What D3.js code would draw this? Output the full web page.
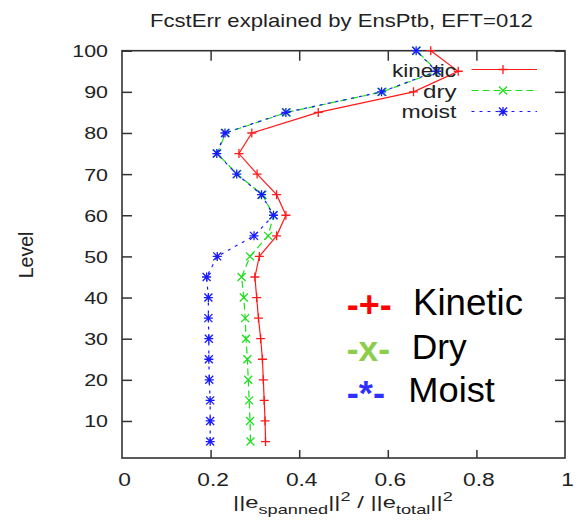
<!DOCTYPE html>
<html><head><meta charset="utf-8">
<script src="https://cdn.jsdelivr.net/npm/d3@7"></script>
<style>body{margin:0;background:#fff}svg{display:block;font-family:"Liberation Sans",Arial,Helvetica,sans-serif}</style>
</head><body>
<script>
const levels = [5,10,15,20,25,30,35,40,45,50,55,60,65,70,75,80,85,90,95,100];
const kinetic = [0.324,0.323,0.321,0.319,0.317,0.313,0.308,0.304,0.300,0.310,0.349,0.370,0.349,0.305,0.264,0.293,0.443,0.658,0.759,0.697];
const dry     = [0.290,0.289,0.287,0.285,0.283,0.280,0.278,0.275,0.270,0.289,0.330,0.342,0.317,0.260,0.215,0.234,0.372,0.588,0.712,0.665];
const moist   = [0.199,0.199,0.199,0.197,0.196,0.196,0.195,0.195,0.191,0.215,0.298,0.342,0.315,0.259,0.214,0.2325,0.370,0.586,0.710,0.664];
const seriesNames = ["kinetic","dry","moist"];
const bigLabels = ["Kinetic","Dry","Moist"];
const bigSymbols = ["-+-","-x-","-*-"];
const xTicks = [0,0.2,0.4,0.6,0.8,1];
const yTicks = [10,20,30,40,50,60,70,80,90,100];
const title = "FcstErr explained by EnsPtb, EFT=012";

const W=577,H=526;
const svg=d3.select("body").append("svg").attr("width",W).attr("height",H);
const L=122,R=565,T=50.7,B=458;
const x=d3.scaleLinear().domain([0,1]).range([L,R]);
const y=d3.scaleLinear().domain([1,100]).range([B,T]);

// fit text helper: draw at origin, measure, scale horizontally to fit [x0,x1]
function fitText(sel, x0, x1, base, fs, opts={}){
  const g=svg.append("g");
  const t=g.append("text").attr("font-size",fs).attr("fill",opts.fill||"#222")
    .attr("font-weight",opts.weight||"normal");
  sel(t);
  const w=t.node().getBBox().width;
  g.attr("transform",`translate(${x0},${base}) scale(${(x1-x0)/w},1)`);
  return g;
}

// title
fitText(t=>t.text(title),150,533,26.5,18);

// axes ticks
const fmt=d=>d===0?"0":d===1?"1":d.toFixed(1);
const gl=svg.append("g").attr("transform",`translate(${L},0)`).call(d3.axisLeft(y).tickValues(yTicks).tickSize(-10));
const gr=svg.append("g").attr("transform",`translate(${R},0)`).call(d3.axisRight(y).tickValues(yTicks).tickSize(-10).tickFormat(""));
const gb=svg.append("g").attr("transform",`translate(0,${B})`).call(d3.axisBottom(x).tickValues(xTicks.slice(1,-1)).tickSize(-8).tickFormat(fmt));
const gb2=svg.append("g").attr("transform",`translate(0,${B})`).call(d3.axisBottom(x).tickValues([0,1]).tickSize(0).tickFormat(fmt));
const gt=svg.append("g").attr("transform",`translate(0,${T})`).call(d3.axisTop(x).tickValues(xTicks.slice(1,-1)).tickSize(-10).tickFormat(""));
[gl,gr,gb,gb2,gt].forEach(g=>{g.select(".domain").remove();g.selectAll("line").attr("stroke","#333").attr("stroke-width",1.5);});
gl.selectAll("text").attr("x",null).attr("dy","0.36em").attr("font-size",16.5).attr("fill","#222")
  .attr("font-family",null).attr("transform","translate(-14,0) scale(1.3,1)");
[gb,gb2].forEach(g=>g.selectAll("text").attr("y",null).attr("dy",null).attr("font-size",17.5).attr("fill","#222")
  .attr("font-family",null).attr("transform","translate(2,28) scale(1.3,1)"));

// frame
svg.append("rect").attr("x",L).attr("y",T).attr("width",R-L).attr("height",B-T)
  .attr("fill","none").attr("stroke","#333").attr("stroke-width",1.6);

// y label
svg.append("text").attr("transform","translate(33,255) rotate(-90)").attr("text-anchor","middle")
  .attr("font-size",19.5).attr("fill","#222").text("Level");

// x label
fitText(t=>{
  t.append("tspan").text("||e");
  t.append("tspan").attr("font-size",13).attr("dy",6).text("spanned");
  t.append("tspan").attr("dy",-6).text("||");
  t.append("tspan").attr("font-size",13).attr("dy",-7).text("2");
  t.append("tspan").attr("dy",7).text(" / ||e");
  t.append("tspan").attr("font-size",13).attr("dy",6).text("total");
  t.append("tspan").attr("dy",-6).text("||");
  t.append("tspan").attr("font-size",13).attr("dy",-7).text("2");
},233,453,508,17);

// series
const colors=["#ff1a1a","#1adf1a","#1a1aff"];
const dashes=[null,"7,4","3,5"];
const data=[kinetic,dry,moist];
function marker(type,cx,cy){
  const p=d3.path();
  if(type===0||type===2){p.moveTo(cx-4.5,cy);p.lineTo(cx+4.5,cy);p.moveTo(cx,cy-4.5);p.lineTo(cx,cy+4.5);}
  if(type===1||type===2){p.moveTo(cx-4,cy-4);p.lineTo(cx+4,cy+4);p.moveTo(cx-4,cy+4);p.lineTo(cx+4,cy-4);}
  return p.toString();
}
const line=d3.line().x(d=>x(d[0])).y(d=>y(d[1]));
[1,2,0].forEach(i=>{
  const pts=levels.map((l,j)=>[data[i][j],l]);
  svg.append("path").attr("d",line(pts)).attr("fill","none").attr("stroke",colors[i])
    .attr("stroke-width",1.2).attr("stroke-dasharray",dashes[i]);
  svg.append("g").selectAll("path").data(pts).join("path")
    .attr("d",d=>marker(i,x(d[0]),y(d[1]))).attr("stroke",colors[i]).attr("stroke-width",1.3).attr("fill","none");
});

// in-plot legend
const legY=[69.5,90.5,111.5];
const legText=[[392,456,76.5],[423,456.5,97.5],[401.5,456.5,117.7]];
seriesNames.forEach((n,i)=>{
  fitText(t=>t.text(n),legText[i][0],legText[i][1],legText[i][2],18);
  svg.append("line").attr("x1",471.5).attr("x2",537).attr("y1",legY[i]).attr("y2",legY[i])
    .attr("stroke",colors[i]).attr("stroke-width",1.2).attr("stroke-dasharray",dashes[i]);
  svg.append("path").attr("d",marker(i,503,legY[i])).attr("stroke",colors[i]).attr("stroke-width",1.3).attr("fill","none");
});

// big annotation
const bigCol=["#ff0000","#8cce4a","#2f2fff"];
const bigX=[[413,523,315],[411.7,466.7,359.3],[408.3,495,401.7]];
const symX=[[346.7,391.7,316.5],[346.7,390,361],[346.7,385,405]];
bigLabels.forEach((s,i)=>{
  fitText(t=>t.text(s),bigX[i][0],bigX[i][1],bigX[i][2],36,{fill:"#000"});
  fitText(t=>t.text(bigSymbols[i]),symX[i][0],symX[i][1],symX[i][2],36,{fill:bigCol[i],weight:"bold"});
});
</script>
</body></html>
